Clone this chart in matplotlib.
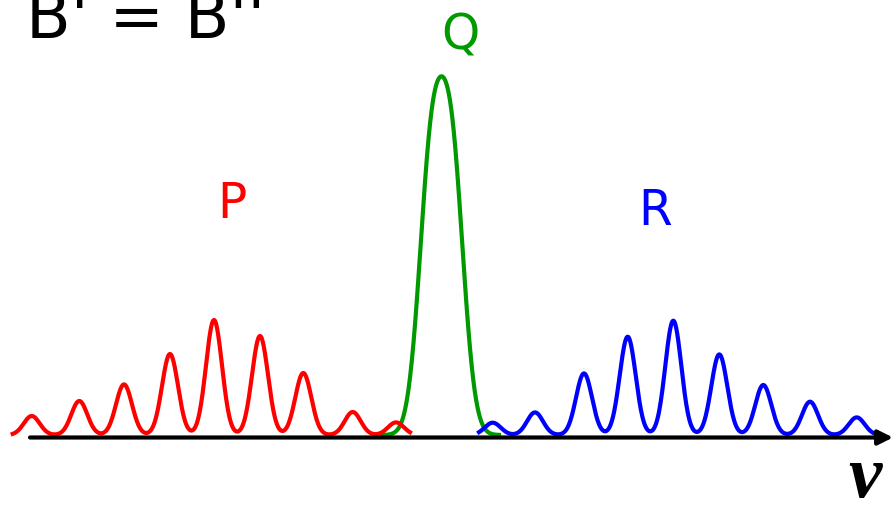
import numpy as np
import matplotlib
matplotlib.use("Agg")
import matplotlib.pyplot as plt

# line positions / intensities (arbitrary frequency units)
p_pos = [31.7, 79.3, 124, 170, 214, 260, 303.3, 352.7, 396]
p_int = [19, 34, 50.6, 81, 115, 99, 62, 23, 12.6]

r_pos = [492.7, 535, 584, 627.7, 673.3, 719.3, 763.3, 810, 856.7]
r_int = [12.3, 22.6, 61.6, 98.3, 114.3, 80.6, 50, 33.3, 17.6]

# Q branch: lines pile up near the band centre
q_pos = [431.0, 452.0]
q_int = [263, 263]

line_width = 8.0
q_width = 12.0


def spectrum(x, pos, amp, w):
    y = np.zeros_like(x)
    for c, a in zip(pos, amp):
        y += a * np.exp(-(x - c) ** 2 / (2 * w ** 2))
    return y


xp = np.linspace(12.7, 410, 800)
xr = np.linspace(479, 877, 800)
xq = np.linspace(382, 499, 400)

fig = plt.figure(figsize=(8.93, 5.07), dpi=100)
ax = fig.add_axes([0, 0, 1, 1])
ax.set_xlim(0, 893)
ax.set_ylim(-72, 435)
ax.axis("off")

# frequency axis
ax.annotate("", xy=(893, -2.5), xytext=(30, -2.5),
            arrowprops=dict(arrowstyle="-|>", color="black", lw=3,
                            mutation_scale=22, shrinkA=0, shrinkB=0))

lw = 3.0
ax.plot(xq, spectrum(xq, q_pos, q_int, q_width), color="#009900", lw=lw)
ax.plot(xp, spectrum(xp, p_pos, p_int, line_width), color="#ff0000", lw=lw)
ax.plot(xr, spectrum(xr, r_pos, r_int, line_width), color="#0000ff", lw=lw)

ax.text(232, 435 - 218, "P", color="#ff0000", fontsize=35, ha="center", va="baseline")
ax.text(460, 435 - 49, "Q", color="#009900", fontsize=35, ha="center", va="baseline")
ax.text(655, 435 - 225, "R", color="#0000ff", fontsize=35, ha="center", va="baseline")

ax.text(25.6, 435 - 38, "B' = B''", color="black", fontsize=47, ha="left", va="baseline")

ax.text(865, 435 - 497, "ν", color="black", fontsize=54, family="Liberation Serif",
        weight="bold", style="italic", ha="center", va="baseline")

fig.savefig("out.png", dpi=100)
